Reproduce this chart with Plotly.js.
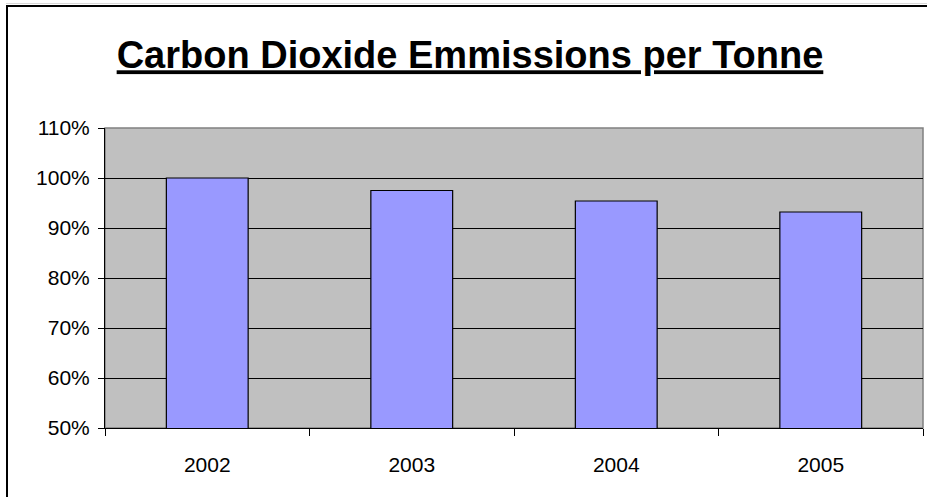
<!DOCTYPE html>
<html>
<head>
<meta charset="utf-8">
<script src="https://cdn.plot.ly/plotly-3.0.1.min.js"></script>
<style>
  html, body { margin: 0; padding: 0; background: #fff; }
  #wrap { position: relative; width: 927px; height: 497px; overflow: hidden; }
  #chart { width: 927px; height: 497px; }
  #frame { position: absolute; left: 6px; top: 5px; width: 1200px; height: 1200px;
           border-left: 2px solid #000; border-top: 2px solid #000; pointer-events: none; }
  #frame2 { position: absolute; left: 6px; top: 3px; width: 1200px; height: 1px; background: #d8d8d8; }
</style>
</head>
<body>
<div id="wrap">
  <div id="chart"></div>
  <div id="frame2"></div>
  <div id="frame"></div>
</div>
<script>
const years = ['2002', '2003', '2004', '2005'];
const emissions = [1.00, 0.975, 0.954, 0.932];
const yTicks = [0.5, 0.6, 0.7, 0.8, 0.9, 1.0, 1.1];
const titleText = 'Carbon Dioxide Emmissions per Tonne';

const trace = {
  type: 'bar',
  x: years,
  y: emissions,
  marker: { color: '#9999FF', line: { color: '#000000', width: 1.2 } },
  hoverinfo: 'x+y'
};

const layout = {
  width: 927,
  height: 497,
  margin: { l: 105, r: 4, t: 128, b: 69 },
  paper_bgcolor: '#ffffff',
  plot_bgcolor: '#C0C0C0',
  bargap: 0.6,
  showlegend: false,
  font: { family: 'Liberation Sans, Arial, sans-serif', size: 21, color: '#000' },
  title: {
    text: '<b><u>' + titleText + '</u></b>',
    font: { family: 'Liberation Sans, Arial, sans-serif', size: 38, color: '#000' },
    x: 0.507, xanchor: 'center', xref: 'container',
    y: 1 - 55 / 497, yanchor: 'middle', yref: 'container'
  },
  xaxis: {
    type: 'category',
    tickson: 'boundaries',
    ticks: 'outside', ticklen: 7, tickcolor: '#000', tickwidth: 1,
    showline: true, linecolor: '#000', linewidth: 1,
    showgrid: false, zeroline: false,
    tickfont: { size: 21 },
    ticklabelstandoff: 18,
    fixedrange: true
  },
  yaxis: {
    range: [0.5, 1.1],
    tickvals: yTicks,
    tickformat: '.0%',
    ticks: 'outside', ticklen: 6, tickcolor: '#000', tickwidth: 1,
    showline: true, linecolor: '#000', linewidth: 1,
    showgrid: true, gridcolor: '#000', gridwidth: 1,
    zeroline: false,
    tickfont: { size: 21 },
    ticklabelstandoff: 4,
    fixedrange: true
  },
  shapes: [{
    type: 'rect', xref: 'paper', yref: 'paper', x0: 0, x1: 1, y0: 0, y1: 1,
    line: { color: '#808080', width: 1.5 }, layer: 'below'
  }]
};

Plotly.newPlot('chart', [trace], layout, { displayModeBar: false, staticPlot: true });
</script>
</body>
</html>
